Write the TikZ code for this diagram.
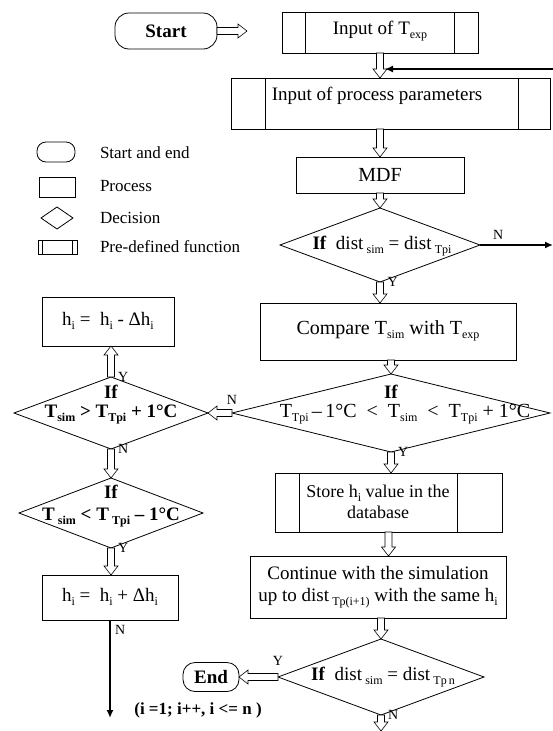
\documentclass[tikz,border=0pt]{standalone}
\usepackage{fontspec}
\setmainfont{Liberation Serif}
\usetikzlibrary{shapes.geometric,arrows.meta,calc}
\newcommand\lo[1]{\raisebox{-0.45ex}{\fontsize{12}{12}\selectfont #1}}
\tikzset{
  every node/.style={inner sep=0pt, outer sep=0pt},
  txt/.style={font=\fontsize{19}{22}\selectfont, align=center},
  big/.style={font=\fontsize{20}{23}\selectfont, align=center},
  lgd/.style={font=\fontsize{17}{19}\selectfont, anchor=west},
  yn/.style={font=\fontsize{14}{14}\selectfont},
  box/.style={draw, line width=0.8pt, rectangle},
  term/.style={draw, line width=0.8pt, rectangle, rounded corners=14pt},
  dec/.style={draw, line width=0.8pt, diamond},
  hollow/.style={draw, fill=white, line width=0.6pt, to path={
    let \p1=($(\tikztotarget)!9pt!(\tikztostart)$) in
    ($(\tikztostart)!3.5pt!90:(\tikztotarget)$) --
    ($(\p1)!3.5pt!90:(\tikztotarget)$) --
    ($(\p1)!7pt!90:(\tikztotarget)$) --
    (\tikztotarget) --
    ($(\p1)!7pt!-90:(\tikztotarget)$) --
    ($(\p1)!3.5pt!-90:(\tikztotarget)$) --
    ($(\tikztostart)!3.5pt!-90:(\tikztotarget)$) -- cycle \tikztonodes}},
  heavy/.style={draw, line width=1.8pt, -{Latex[length=8pt,width=7pt]}}
}
\begin{document}
\begin{tikzpicture}[x=1pt,y=-1pt]
\useasboundingbox (0,0) rectangle (553,731);
\fill[white] (0,0) rectangle (553,731);

% legend
\node[term, rounded corners=9pt, minimum width=38pt, minimum height=20pt] (lg1) at (56,152) {};
\node[box, minimum width=36pt, minimum height=20pt] (lg2) at (57,187) {};
\node[dec, minimum width=32pt, minimum height=22pt] (lg3) at (57,218) {};
\node[box, minimum width=39pt, minimum height=14pt] (lg4) at (57.5,247) {};
\draw[line width=0.8pt] ([xshift=4pt]lg4.north west) -- ([xshift=4pt]lg4.south west)
  ([xshift=-5pt]lg4.north east) -- ([xshift=-5pt]lg4.south east);
\node[lgd] (lt1) at (100,153) {Start and end};
\node[lgd] (lt2) at (100,186) {Process};
\node[lgd] (lt3) at (100,218) {Decision};
\node[lgd] (lt4) at (100,247) {Pre-defined function};

% main column
\node[term, minimum width=102pt, minimum height=36pt, font=\fontsize{19}{22}\selectfont\bfseries] (start) at (166,31) {Start};
\coordinate (startend) at (247,31);
\node[box, minimum width=196pt, minimum height=41pt] (inT) at (380,32.5) {};
\node[txt] (inTt) at (380,31) {Input of T\lo{exp}};
\draw[line width=0.8pt] ([xshift=23pt]inT.north west) -- ([xshift=23pt]inT.south west)
  ([xshift=-24pt]inT.north east) -- ([xshift=-24pt]inT.south east);
\coordinate (fb) at (553,69);
\node[box, minimum width=319pt, minimum height=51pt] (proc) at (390.5,103.5) {};
\node[txt] (proct) at (377,96) {Input of process parameters};
\draw[line width=0.8pt] ([xshift=34pt]proc.north west) -- ([xshift=34pt]proc.south west)
  ([xshift=-32pt]proc.north east) -- ([xshift=-32pt]proc.south east);
\node[box, big, minimum width=168pt, minimum height=36pt] (mdf) at (380,175) {MDF};
\node[dec, minimum width=200pt, minimum height=74pt] (d1) at (380,245) {};
\node[txt] (d1t) at (382,246) {\textbf{If}\ \ dist\,\lo{sim} = dist\,\lo{Tpi}};
\coordinate (d1out) at (553,245);
\node[box, minimum width=256pt, minimum height=57pt] (cmp) at (388,331.5) {};
\node[big] (cmpt) at (388,331) {Compare T\lo{sim}\ with T\lo{exp}};
\node[dec, minimum width=318pt, minimum height=78pt] (d2) at (391,413) {};
\node[txt] (d2a) at (391,392) {\textbf{If}};
\node[big] (d2b) at (405,414) {T\lo{Tpi}\,{\textendash}\,1°C\enspace<\enspace T\lo{sim}\enspace<\enspace T\lo{Tpi} + 1°C};
\node[box, minimum width=227pt, minimum height=59pt] (store) at (388.5,502.5) {};
\node[txt, font=\fontsize{18}{21}\selectfont] (storet) at (378,502) {Store h\lo{i} value in the\\database};
\draw[line width=0.8pt] ([xshift=24pt]store.north west) -- ([xshift=24pt]store.south west)
  ([xshift=-45pt]store.north east) -- ([xshift=-45pt]store.south east);
\node[box, minimum width=256pt, minimum height=62pt] (cont) at (378,587) {};
\node[txt] (contt) at (378,587) {Continue with the simulation\\up to dist\,\lo{Tp(i+1)} with the same h\lo{i}};
\node[dec, minimum width=206pt, minimum height=76pt] (d5) at (381,677) {};
\node[txt] (d5t) at (383,677) {\textbf{If}\ \ dist\,\lo{sim} = dist\,\lo{Tp\,n}};
\node[term, rounded corners=12pt, minimum width=56pt, minimum height=29pt, font=\fontsize{19}{22}\selectfont\bfseries] (endn) at (211,677) {End};
\coordinate (d5out) at (381,731);

% left column
\node[box, minimum width=132pt, minimum height=49pt] (hm) at (108,321.5) {};
\node[txt] (hmt) at (108,321) {h\lo{i} =\ \ h\lo{i} - Δh\lo{i}};
\node[dec, minimum width=194pt, minimum height=72pt] (d3) at (111,413) {};
\node[txt] (d3a) at (111,392) {\textbf{If}};
\node[txt, font=\fontsize{19}{22}\selectfont\bfseries] (d3b) at (111,414) {T\lo{sim} > T\lo{Tpi} + 1°C};
\node[dec, minimum width=184pt, minimum height=70pt] (d4) at (111,513) {};
\node[txt] (d4a) at (111,492) {\textbf{If}};
\node[txt, font=\fontsize{19}{22}\selectfont\bfseries] (d4b) at (111,517) {T\,\lo{sim} < T\,\lo{Tpi} {\textendash} 1°C};
\node[box, minimum width=136pt, minimum height=45pt] (hp) at (110,597.5) {};
\node[txt] (hpt) at (110,597) {h\lo{i} =\ \ h\lo{i} + Δh\lo{i}};
\coordinate (loopend) at (110,718);
\node[txt, font=\fontsize{17}{19}\selectfont\bfseries] (loopt) at (198,710) {(i =1; i++, i <= n )};

% hollow arrows
\draw[hollow] (start.east) to (startend);
\draw[hollow] (inT.south) to (inT.south |- proc.north);
\draw[hollow] (mdf.north |- proc.south) to (mdf.north);
\draw[hollow] (mdf.south) to (d1.north);
\draw[hollow] (d1.south) to node[yn, right=7pt, pos=0.6] {Y} (d1.south |- cmp.north);
\draw[hollow] (d2.north |- cmp.south) to (d2.north);
\draw[hollow] (d2.west) to node[yn, above=9pt] {N} (d3.east);
\draw[hollow] (d3.north) to node[yn, right=7pt] {Y} (d3.north |- hm.south);
\draw[hollow] (d3.south) to node[yn, right=7pt] {N} (d4.north);
\draw[hollow] (d4.south) to node[yn, right=7pt] {Y} (d4.south |- hp.north);
\draw[hollow] (d2.south) to node[yn, right=7pt] {Y} (d2.south |- store.north);
\draw[hollow] (store.south) to (store.south |- cont.north);
\draw[hollow] (d5.north |- cont.south) to (d5.north);
\draw[hollow] (d5.west) to node[yn, above=12pt, pos=0.55] {Y} (endn.east);
\draw[hollow] (d5.south) to node[yn, right=7pt] {N} (d5out);

% heavy arrows
\draw[heavy] (fb) -- ([xshift=5pt]inT.south |- fb);
\draw[heavy] (d1.east) -- node[yn, above=6pt, pos=0.25] {N} (d1out);
\draw[heavy] (hp.south) -- node[yn, right=5pt, pos=0.1] {N} (loopend);
\end{tikzpicture}
\end{document}
